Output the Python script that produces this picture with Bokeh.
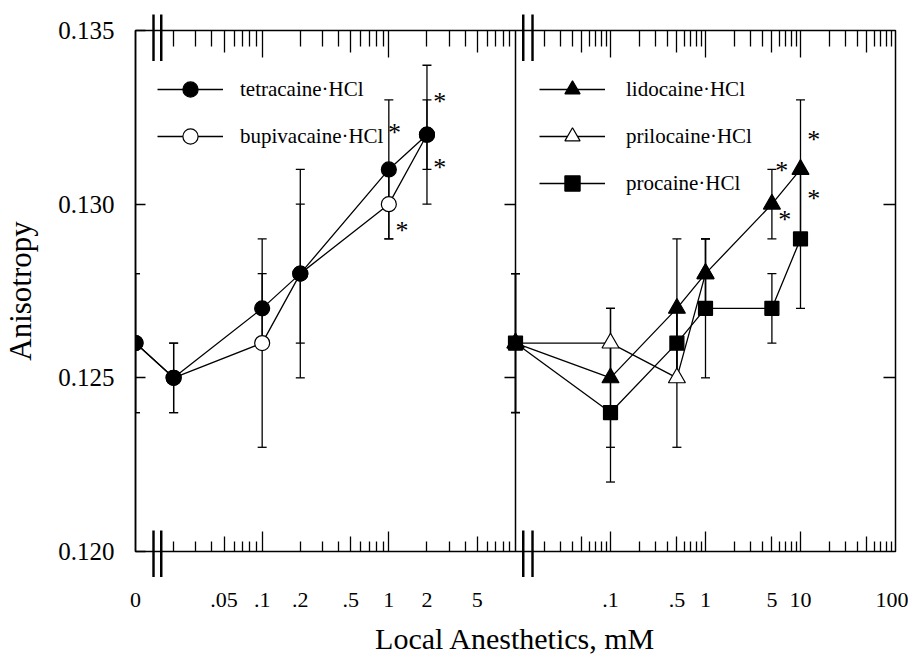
import math
from bokeh.plotting import figure
from bokeh.models import (Range1d, LogScale, LinearAxis, FixedTicker,
                          NumeralTickFormatter, Legend, LegendItem)
from bokeh.core.properties import value
from bokeh.embed import file_html
from bokeh.resources import INLINE

FONT = "Liberation Serif"

# ---------------- data ----------------
# left panel (concentration in mM; 0 is drawn at the axis break)
left_conc = [0, 0.02, 0.1, 0.2, 1, 2]
tetracaine = [0.126, 0.125, 0.127, 0.128, 0.131, 0.132]
tetracaine_err = [0.002, 0.001, 0.001, 0.003, 0.002, 0.002]
bupivacaine = [0.126, 0.125, 0.126, 0.128, 0.130, 0.132]
bupivacaine_err = [0.002, 0.001, 0.003, 0.002, 0.001, 0.001]

# right panel
lido_conc = [0, 0.1, 0.5, 1, 5, 10]
lidocaine = [0.126, 0.125, 0.127, 0.128, 0.130, 0.131]
lidocaine_err = [0.002, 0.002, 0.002, 0.001, 0.001, 0.002]
prilo_conc = [0, 0.1, 0.5, 1]
prilocaine = [0.126, 0.126, 0.125, 0.128]
prilocaine_err = [0.002, 0.001, 0.002, 0.001]
proc_conc = [0, 0.1, 0.5, 1, 5, 10]
procaine = [0.126, 0.124, 0.126, 0.127, 0.127, 0.129]
procaine_err = [0.002, 0.002, 0.001, 0.002, 0.001, 0.002]

# significance asterisks (x in mM, y in anisotropy)
left_star_x = [1.11, 1.27, 2.52, 2.52]
left_star_y = [0.1322, 0.1294, 0.1331, 0.1312]
right_star_x = [6.35, 6.84, 13.8, 13.8]
right_star_y = [0.1311, 0.1297, 0.1320, 0.1303]

# tick labels
y_ticks = [0.120, 0.125, 0.130, 0.135]
left_label_vals = [0, 0.05, 0.1, 0.2, 0.5, 1, 2, 5]
left_label_txt = ["0", ".05", ".1", ".2", ".5", "1", "2", "5"]
right_label_vals = [0.1, 0.5, 1, 5, 10, 100]
right_label_txt = [".1", ".5", "1", "5", "10", "100"]

# ---------------- scales ----------------
Y_MIN, Y_MAX = 0.120, 0.135
L_START, L_END = 0.01, 1e4      # left panel occupies 0.01..10 (left half)
R_START, R_END = 1e-6, 100      # right panel occupies 0.01..100 (right half)
L_ZERO = 0.01                   # where "0" is drawn (left break)
R_ZERO = 0.01                   # where "0" is drawn (right break)
L_BREAK = [0.0139, 0.0160]      # axis-break marks
R_BREAK = [0.0121, 0.0151]


def place(conc, zero):
    return [zero if c == 0 else c for c in conc]


def right_to_left(v):
    f = (math.log10(v) - math.log10(R_START)) / (math.log10(R_END) - math.log10(R_START))
    return min(L_END, L_START * (L_END / L_START) ** f)


p = figure(width=908, height=662, x_axis_type="log",
           x_range=Range1d(L_START, L_END), y_range=Range1d(Y_MIN, Y_MAX),
           x_axis_location=None, y_axis_location=None,
           output_backend="svg", toolbar_location=None,
           min_border_left=133, min_border_right=13, min_border_top=30,
           min_border_bottom=111)
p.extra_x_ranges = {"right": Range1d(R_START, R_END)}
p.extra_x_scales = {"right": LogScale()}
p.xgrid.grid_line_color = None
p.ygrid.grid_line_color = None
p.outline_line_color = "black"
p.outline_line_width = 1.5
p.background_fill_color = "white"
p.border_fill_color = "white"


def tick_axis(ticks, length, rname=None, line=False):
    # ticks-only axis: all ticks given as minor ticks, so no labels are made
    ax = LinearAxis(ticker=FixedTicker(ticks=[], minor_ticks=ticks))
    if rname:
        ax.x_range_name = rname
    ax.major_tick_in = 0
    ax.major_tick_out = 0
    ax.minor_tick_in = length
    ax.minor_tick_out = 0
    ax.minor_tick_line_width = 1.3
    ax.minor_tick_line_color = "black"
    ax.major_label_standoff = 0
    ax.axis_line_color = "black" if line else None
    ax.axis_line_width = 1.5
    return ax


def break_axis(standoff):
    pos = L_BREAK + [right_to_left(v) for v in R_BREAK]
    ax = LinearAxis(ticker=FixedTicker(ticks=pos, minor_ticks=[]))
    ax.major_label_overrides = {v: "|" for v in pos}
    ax.major_tick_in = 0
    ax.major_tick_out = 0
    ax.major_tick_line_color = None
    ax.axis_line_color = None
    ax.major_label_standoff = standoff
    ax.major_label_text_font = FONT
    ax.major_label_text_font_size = "50px"
    ax.major_label_text_color = "black"
    return ax


def decades(lo, hi, ks):
    out = []
    for d in range(lo, hi):
        for k in ks:
            out.append(k * 10.0 ** d)
    return out

MINOR_K = (2, 3, 4, 6, 7, 8, 9)
left_major = [0.1, 1]
left_mid = [0.05, 0.5, 5]
left_minor = decades(-2, 1, MINOR_K)
right_major = [0.1, 1, 10]
right_mid = [0.05, 0.5, 5, 50]
right_minor = decades(-2, 2, MINOR_K)

for side, (lmaj, lmid, lmin) in (("below", (20, 15, 10)), ("above", (27, 22, 16))):
    p.add_layout(tick_axis(left_major, lmaj), side)
    p.add_layout(tick_axis(left_mid, lmid), side)
    p.add_layout(tick_axis(left_minor, lmin), side)
    p.add_layout(tick_axis(right_major, lmaj, "right"), side)
    p.add_layout(tick_axis(right_mid, lmid, "right"), side)
    p.add_layout(tick_axis(right_minor, lmin, "right"), side)

p.add_layout(break_axis(-30), "above")
p.add_layout(break_axis(-31), "below")

# x tick labels + axis title
lab_pos = place(left_label_vals, L_ZERO) + [right_to_left(v) for v in right_label_vals]
lab_txt = left_label_txt + right_label_txt
xlab = LinearAxis(ticker=FixedTicker(ticks=lab_pos, minor_ticks=[]))
xlab.major_label_overrides = {pos: t for pos, t in zip(lab_pos, lab_txt)}
xlab.major_tick_in = 0
xlab.major_tick_out = 0
xlab.major_tick_line_color = None
xlab.minor_tick_line_color = None
xlab.axis_line_color = None
xlab.major_label_standoff = 13
xlab.major_label_text_font = FONT
xlab.major_label_text_font_size = "22px"
xlab.major_label_text_color = "black"
xlab.axis_label = "Local Anesthetics, mM"
xlab.axis_label_text_font = FONT
xlab.axis_label_text_font_size = "30px"
xlab.axis_label_text_font_style = "normal"
xlab.axis_label_text_color = "black"
xlab.axis_label_standoff = 12
p.add_layout(xlab, "below")

# left y axis
yax = LinearAxis(ticker=FixedTicker(ticks=y_ticks, minor_ticks=[]),
                 formatter=NumeralTickFormatter(format="0.000"))
yax.major_tick_in = 10
yax.major_tick_out = 0
yax.major_tick_line_width = 1.3
yax.major_tick_line_color = "black"
yax.axis_line_width = 1.5
yax.axis_line_color = "black"
yax.major_label_standoff = 21
yax.major_label_text_font = FONT
yax.major_label_text_font_size = "25px"
yax.major_label_text_color = "black"
yax.axis_label = "Anisotropy"
yax.axis_label_text_font = FONT
yax.axis_label_text_font_size = "31px"
yax.axis_label_text_font_style = "normal"
yax.axis_label_text_color = "black"
yax.axis_label_standoff = 17
p.add_layout(yax, "left")

# right frame edge ticks and divider between the panels
inner_y = [0.125, 0.130]
p.add_layout(tick_axis(inner_y, 12), "right")
ydiv = tick_axis(inner_y, 11, line=True)
ydiv.fixed_location = 10
p.add_layout(ydiv, "right")


# ---------------- series ----------------
def errbars(xs, ys, es, rname):
    kw = {"x_range_name": rname} if rname else {}
    lo = [y - e for y, e in zip(ys, es)]
    hi = [y + e for y, e in zip(ys, es)]
    p.segment(x0=xs, y0=lo, x1=xs, y1=hi, line_color="black", line_width=1.3, **kw)
    p.scatter(xs + xs, lo + hi, marker="dash", size=9, line_color="black",
              line_width=1.3, **kw)


def series(xs, ys, marker, size, fill, rname=None):
    kw = {"x_range_name": rname} if rname else {}
    ln = p.line(xs, ys, line_color="black", line_width=1.3, **kw)
    sc = p.scatter(xs, ys, marker=marker, size=size, fill_color=fill,
                   line_color="black", line_width=1.2, **kw)
    return ln, sc

lx = place(left_conc, L_ZERO)
errbars(lx, tetracaine, tetracaine_err, None)
errbars(lx, bupivacaine, bupivacaine_err, None)
bup = series(lx, bupivacaine, "circle", 15, "white")
tet = series(lx, tetracaine, "circle", 15, "black")

x_lido = place(lido_conc, R_ZERO)
x_prilo = place(prilo_conc, R_ZERO)
x_proc = place(proc_conc, R_ZERO)
errbars(x_lido, lidocaine, lidocaine_err, "right")
errbars(x_prilo, prilocaine, prilocaine_err, "right")
errbars(x_proc, procaine, procaine_err, "right")
pri = series(x_prilo, prilocaine, "triangle", 17, "white", "right")
lid = series(x_lido, lidocaine, "triangle", 17, "black", "right")
pro = series(x_proc, procaine, "square", 14, "black", "right")

# asterisks
p.text(left_star_x, left_star_y, text=["*"] * len(left_star_x),
       text_font=value(FONT), text_font_size="26px", text_align="center",
       text_baseline="middle", text_color="black", y_offset=5)
p.text(right_star_x, right_star_y, text=["*"] * len(right_star_x),
       text_font=value(FONT), text_font_size="26px", text_align="center",
       text_baseline="middle", text_color="black", y_offset=5,
       x_range_name="right")


def make_legend(items, loc, standoff):
    lg = Legend(items=items, location=loc)
    lg.label_text_font = FONT
    lg.label_text_font_size = "21px"
    lg.label_text_color = "black"
    lg.glyph_width = 66
    lg.glyph_height = 38
    lg.label_height = 38
    lg.label_standoff = standoff
    lg.spacing = 9
    lg.padding = 0
    lg.margin = 0
    lg.border_line_color = None
    lg.background_fill_alpha = 0
    return lg

p.add_layout(make_legend([
    LegendItem(label="tetracaine·HCl", renderers=list(tet)),
    LegendItem(label="bupivacaine·HCl", renderers=list(bup)),
], (22, 396), 17))
p.add_layout(make_legend([
    LegendItem(label="lidocaine·HCl", renderers=list(lid)),
    LegendItem(label="prilocaine·HCl", renderers=list(pri)),
    LegendItem(label="procaine·HCl", renderers=list(pro)),
], (404, 349), 21))

open("out.html", "w").write(file_html(p, INLINE))
